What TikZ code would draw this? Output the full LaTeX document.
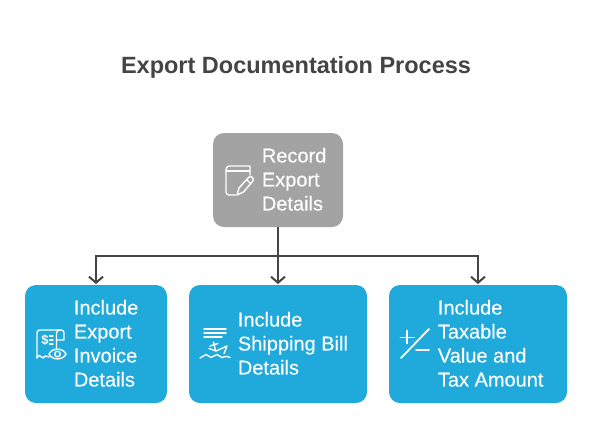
\documentclass[tikz,border=0pt]{standalone}
\usepackage{fontspec}
\setmainfont{Liberation Sans}
\newfontfamily\cardfont[FakeBold=0.25]{Liberation Sans}
\usetikzlibrary{arrows.meta}
\definecolor{boxgray}{HTML}{A3A3A3}
\definecolor{boxblue}{HTML}{1FAADB}
\definecolor{ink}{HTML}{444444}
\tikzset{
  x=1pt,y=-1pt,
  card/.style={fill=#1,rounded corners=11pt,draw=none},
  cardtext/.style={anchor=north west,inner sep=0pt,text=white,align=left,font=\fontsize{20}{24}\selectfont\cardfont},
  titletext/.style={text=ink,inner sep=0pt,font=\fontsize{23.5}{28}\selectfont\bfseries},
  link/.style={draw=ink,line width=2pt},
  linkarrow/.style={link,-{Straight Barb[length=6pt,width=14pt,line width=2pt]}},
  icon/.style={draw=white,line width=1.4pt,line cap=round,line join=round},
  thinicon/.style={draw=white,line width=1.1pt,line cap=round,line join=round},
  boldicon/.style={draw=white,line width=1.8pt,line cap=round,line join=round}
}
\begin{document}
\begin{tikzpicture}
\useasboundingbox (0,0) rectangle (592,421);
\fill[white] (0,0) rectangle (592,421);
\node[titletext] (title) at (296,67) {Export Documentation Process};
\fill[card=boxgray] (213,133) rectangle (343,227);
\fill[card=boxblue] (25,285) rectangle (167,403);
\fill[card=boxblue] (189,285) rectangle (367,403);
\fill[card=boxblue] (389,285) rectangle (567,403);
\coordinate (rootb) at (278,227);
\coordinate (cardA) at (96,284);
\coordinate (cardB) at (278,284);
\coordinate (cardC) at (478,284);
\coordinate (junction) at (278,256);
\draw[linkarrow] (rootb) -- (cardB);
\draw[linkarrow] (junction) -| (cardA);
\draw[linkarrow] (junction) -| (cardC);
\node[cardtext] (rootlabel) at (261.7,147.8) {Record\\Export\\Details};
\node[cardtext] (alabel) at (73.7,299.8) {Include\\Export\\Invoice\\Details};
\node[cardtext] (blabel) at (237.7,311.8) {Include\\Shipping Bill\\Details};
\node[cardtext] (clabel) at (437.7,299.8) {Include\\Taxable\\Value and\\Tax Amount};
% book icon
\draw[icon] (250,175) -- (250,166) -- (229,166) .. controls (227,166) and (226,168) .. (226,170) -- (226,192) .. controls (226,194) and (227.5,195) .. (229.5,195) -- (236,195);
\draw[icon] (226,171) -- (250,171);
\draw[icon] (237,195) -- (239,188) -- (248.5,177.5) .. controls (250,176) and (251.5,176) .. (252.5,177.5) .. controls (253.5,179) and (253.5,180) .. (252.5,181.5) -- (243.5,192) -- cycle;
\draw[thinicon] (246.5,179.5) -- (250.5,183.5);
% receipt icon
\draw[icon] (37,358) -- (37,333) .. controls (37,331) and (38,330) .. (40,330) -- (61,330) .. controls (63,330) and (64,331) .. (64,333) -- (64,340) -- (56.5,340);
\draw[icon] (56.5,348) -- (56.5,333) .. controls (56.5,331) and (58,330) .. (60,330);
\draw[icon] (37,358) .. controls (38.5,354.5) and (40,355) .. (41.5,357) .. controls (43,359) and (44,358) .. (45,356) .. controls (46,354.5) and (47.5,358) .. (49,357);
\node[inner sep=0pt,text=white,font=\fontsize{13}{13}\selectfont\bfseries] (dollar) at (45,340) {\$};
\draw[thinicon] (49.5,336) -- (53,336) (49.5,340) -- (53,340) (49.5,344) -- (53,344);
\draw[icon] (49,354) .. controls (52,347.5) and (63,347.5) .. (66,354) .. controls (63,360.5) and (52,360.5) .. (49,354) -- cycle;
\draw[icon] (57.5,354) circle[radius=2.8];
% ship icon
\draw[icon] (204,329) -- (226,329) (204,333) -- (226,333) (204,337) -- (222,337);
\draw[icon] (209,348.5) -- (216,351) -- (227,346) -- (224,353.5);
\draw[icon] (213.5,342) -- (215.5,350.5) (210,346) -- (218,343.5);
\draw[icon] (200,358) .. controls (203,358) and (203,354.5) .. (206,354.5) .. controls (209,354.5) and (208,357.5) .. (211,357.5) .. controls (214,357.5) and (214,354.5) .. (217,354.5) .. controls (220,354.5) and (219,357.5) .. (222,357.5) .. controls (225,357.5) and (225,355) .. (230,357.5);
% plus minus icon
\draw[boldicon] (400.5,337.5) -- (414,337.5) (407,330.5) -- (407,343.5);
\draw[boldicon] (416,350) -- (429,350);
\draw[boldicon] (401,358) -- (429,329);
\end{tikzpicture}
\end{document}
